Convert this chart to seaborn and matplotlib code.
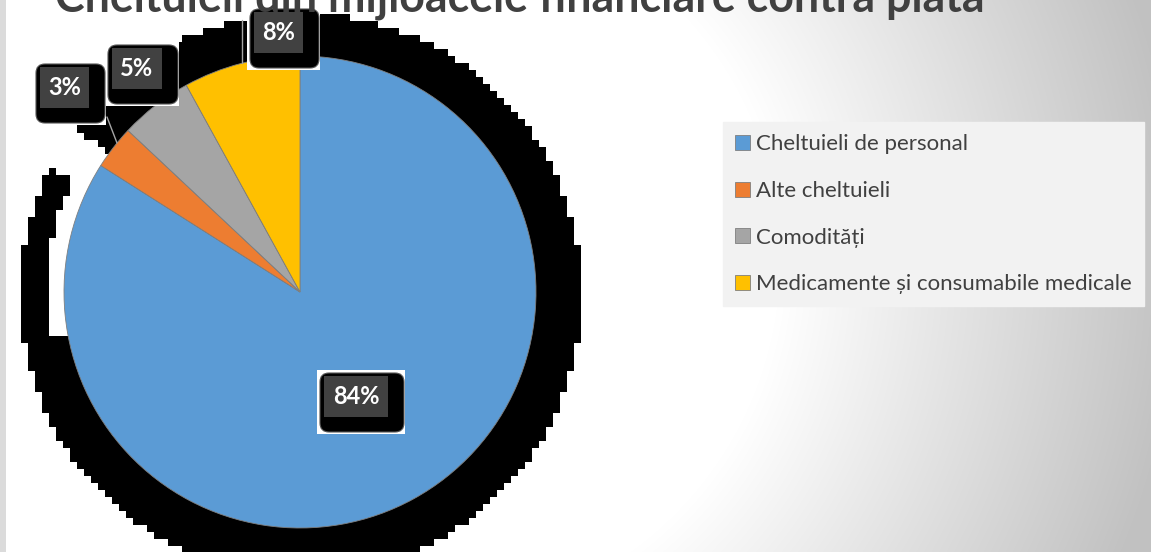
import numpy as np
import matplotlib
matplotlib.use("Agg")
import matplotlib.pyplot as plt
import matplotlib.patches as mpatches
import seaborn as sns

# --- Data ---
categories = ["Cheltuieli de personal", "Alte cheltuieli", "Comodități",
              "Medicamente și consumabile medicale"]
shares = [84, 3, 5, 8]
colors = ["#5B9BD5", "#ED7D31", "#A5A5A5", "#FFC000"]
title = "Cheltuieli din mijloacele financiare contra plată"

# --- Layout (pixel units, y measured from top) ---
W, H = 1151, 552
PIE_X, PIE_Y, PIE_R = 300, 292, 236
# black label boxes: left, top, width
label_boxes = [(320, 373, 84), (36, 64, 69), (108, 45, 70), (250, 9, 69)]


def Y(y):
    return H - y


def main():
    sns.set_theme(style="white")
    plt.rcParams["font.family"] = ["Lato", "DejaVu Sans"]

    fig = plt.figure(figsize=(W / 100, H / 100), dpi=100)
    ax = fig.add_axes([0, 0, 1, 1])
    ax.set_axis_off()

    # background: white on the left, grey sheen to the right
    gx, gy = np.meshgrid(np.arange(W) + 0.5, np.arange(H) + 0.5)
    d = np.hypot(gx - 420, gy - 260)
    t = np.clip((d - 360) / 400, 0, 1) * np.clip((gx - 480) / 120, 0, 1)
    val = 1 - 0.24 * t
    bg = np.dstack([val, val, val])
    bg[:, :6] = 0.86
    ax.imshow(bg, extent=(0, W, 0, H), origin="upper", aspect="auto", zorder=0)

    # blocky black shadow behind the pie
    cell = 7
    nx, ny = int(np.ceil(W / cell)), int(np.ceil(H / cell))
    cx, cy = np.meshgrid(np.arange(nx) * cell + cell / 2, np.arange(ny) * cell + cell / 2)
    inside = (cx - 301) ** 2 + (cy - 294) ** 2 < 281 ** 2
    rr = np.hypot(cx - PIE_X, cy - PIE_Y)
    ang = np.degrees(np.arctan2(-(cy - PIE_Y), cx - PIE_X)) % 360
    gap_a = (ang > 144) & (ang < 154) & (rr > 228)
    gap_b = (ang >= 154) & (ang < 190) & (rr < 253)
    mask = inside & ~gap_a & ~gap_b
    shadow = np.zeros((ny, nx, 4))
    shadow[..., 3] = mask.astype(float)
    ax.imshow(shadow, extent=(0, nx * cell, H - ny * cell, H), origin="upper",
              interpolation="nearest", aspect="auto", zorder=1)

    wedges, _ = ax.pie(shares, colors=colors, startangle=90, counterclock=False,
                       center=(PIE_X, Y(PIE_Y)), radius=PIE_R,
                       wedgeprops=dict(linewidth=0.6, edgecolor="#7f7f7f"))
    for w in wedges:
        w.set_zorder(2)

    # leader lines
    ax.plot([107, 117], [Y(117), Y(143)], color="#a6a6a6", lw=1, zorder=3)
    ax.plot([242, 242], [Y(20), Y(63)], color="#a6a6a6", lw=1, zorder=3)

    # data labels
    for (left, top, width), v in zip(label_boxes, shares):
        h = 59
        ax.add_patch(mpatches.Rectangle((left - 3, Y(top + h + 2)), width + 4, h + 5,
                                        facecolor="white", edgecolor="none", zorder=4))
        ax.add_patch(mpatches.FancyBboxPatch((left, Y(top + h)), width, h,
                                             boxstyle="round,pad=0,rounding_size=9",
                                             facecolor="black", edgecolor="#555555",
                                             lw=0.8, zorder=5))
        gw, gh = width - 20, 41
        ax.add_patch(mpatches.Rectangle((left + 4, Y(top + 3 + gh)), gw, gh,
                                        facecolor="#414141", edgecolor="none", zorder=6))
        ax.text(left + 4 + gw / 2, Y(top + 3 + gh / 2), f"{v}%", color="white",
                fontsize=17, fontweight="bold", ha="center", va="center", zorder=7)

    # title, cut off at the top edge like the original slide
    tt = ax.text(520, Y(12), title, fontsize=27, fontweight="bold", color="#404040",
                 ha="center", va="baseline", zorder=8)
    fig.canvas.draw()
    wpx = tt.get_window_extent().width
    tt.set_fontsize(27 * 929 / wpx)

    fig.legend(wedges, categories, loc="upper left",
               bbox_to_anchor=(723 / W, 1 - 122 / H), frameon=True, fancybox=False,
               facecolor="#f2f2f2", edgecolor="#f2f2f2", framealpha=1,
               fontsize=16, labelcolor="#404040", handlelength=0.65,
               handleheight=0.65, handletextpad=0.3, labelspacing=1.2,
               borderpad=0.55, borderaxespad=0)

    ax.set_xlim(0, W)
    ax.set_ylim(0, H)
    ax.set_aspect("auto")

    fig.savefig("out.png", dpi=100)


if __name__ == "__main__":
    main()
